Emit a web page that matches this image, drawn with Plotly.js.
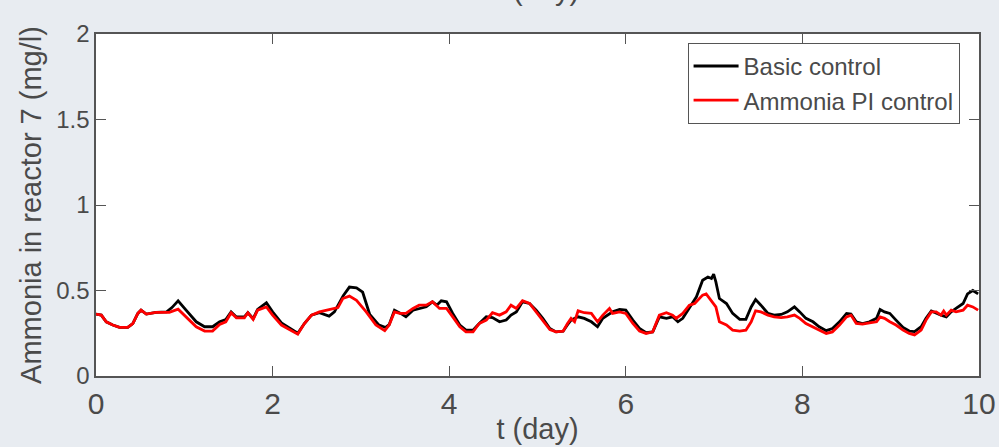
<!DOCTYPE html>
<html>
<head>
<meta charset="utf-8">
<script src="https://cdn.plot.ly/plotly-3.0.1.min.js"></script>
<style>html,body{margin:0;padding:0;background:#e8ecf1;}#chart{width:999px;height:447px;}</style>
</head>
<body>
<div id="chart"></div>
<script>
const seriesNames = ["Basic control", "Ammonia PI control"];

const tBasic = [0,0.06,0.116,0.19,0.266,0.36,0.417,0.474,0.51,0.57,0.68,0.80,0.86,0.93,1.02,1.135,1.23,1.32,1.40,1.47,1.53,1.59,1.68,1.72,1.78,1.83,1.93,2.00,2.10,2.19,2.285,2.36,2.44,2.53,2.64,2.70,2.80,2.87,2.95,3.02,3.10,3.20,3.28,3.32,3.38,3.45,3.51,3.59,3.66,3.74,3.81,3.86,3.91,3.97,4.04,4.12,4.19,4.27,4.34,4.42,4.49,4.57,4.645,4.70,4.76,4.83,4.91,4.985,5.06,5.14,5.21,5.29,5.34,5.38,5.46,5.53,5.61,5.68,5.74,5.815,5.85,5.93,6.00,6.08,6.155,6.23,6.305,6.38,6.46,6.53,6.59,6.645,6.72,6.80,6.87,6.93,6.97,6.995,7.02,7.06,7.14,7.21,7.29,7.36,7.42,7.47,7.53,7.61,7.68,7.76,7.83,7.91,7.97,8.04,8.12,8.19,8.27,8.34,8.42,8.50,8.55,8.61,8.68,8.76,8.84,8.88,8.93,8.99,9.06,9.14,9.21,9.27,9.345,9.40,9.46,9.515,9.57,9.63,9.685,9.74,9.82,9.87,9.93,9.99];
const basic = [0.362,0.356,0.317,0.298,0.284,0.284,0.307,0.366,0.385,0.362,0.372,0.375,0.40,0.44,0.385,0.317,0.288,0.288,0.317,0.33,0.375,0.345,0.345,0.37,0.335,0.39,0.428,0.375,0.31,0.28,0.25,0.307,0.356,0.37,0.35,0.375,0.47,0.52,0.515,0.49,0.36,0.30,0.284,0.30,0.385,0.366,0.346,0.385,0.395,0.405,0.434,0.414,0.44,0.434,0.366,0.298,0.268,0.268,0.307,0.346,0.342,0.317,0.327,0.356,0.375,0.434,0.424,0.385,0.337,0.278,0.258,0.262,0.30,0.327,0.346,0.337,0.317,0.288,0.337,0.366,0.375,0.389,0.385,0.327,0.278,0.253,0.258,0.346,0.337,0.346,0.317,0.337,0.395,0.463,0.56,0.579,0.57,0.595,0.55,0.453,0.424,0.366,0.331,0.331,0.404,0.447,0.414,0.366,0.356,0.36,0.375,0.404,0.375,0.337,0.317,0.288,0.265,0.278,0.317,0.366,0.362,0.317,0.307,0.317,0.337,0.389,0.375,0.366,0.327,0.284,0.263,0.26,0.288,0.337,0.38,0.366,0.356,0.346,0.375,0.395,0.424,0.48,0.50,0.48];

const tPI = [0,0.06,0.116,0.19,0.266,0.36,0.417,0.474,0.51,0.57,0.68,0.83,0.93,1.02,1.135,1.23,1.32,1.40,1.47,1.53,1.59,1.68,1.72,1.78,1.83,1.93,2.00,2.10,2.19,2.285,2.36,2.44,2.53,2.64,2.74,2.795,2.87,2.95,3.06,3.17,3.27,3.32,3.38,3.44,3.51,3.59,3.66,3.74,3.81,3.89,3.97,4.04,4.12,4.19,4.27,4.34,4.42,4.49,4.57,4.645,4.70,4.76,4.83,4.91,4.985,5.06,5.14,5.21,5.29,5.34,5.38,5.42,5.46,5.53,5.61,5.68,5.74,5.815,5.85,5.93,6.00,6.08,6.155,6.23,6.305,6.38,6.46,6.53,6.57,6.645,6.72,6.78,6.87,6.91,6.97,7.02,7.06,7.14,7.21,7.29,7.36,7.42,7.47,7.53,7.61,7.68,7.76,7.83,7.91,7.97,8.04,8.12,8.19,8.27,8.34,8.42,8.50,8.55,8.61,8.68,8.76,8.84,8.88,8.93,8.99,9.06,9.14,9.21,9.27,9.345,9.40,9.46,9.515,9.57,9.60,9.63,9.685,9.74,9.82,9.87,9.93,9.99];
const pi = [0.362,0.356,0.317,0.298,0.284,0.284,0.307,0.366,0.385,0.362,0.372,0.372,0.391,0.346,0.288,0.263,0.263,0.302,0.317,0.37,0.34,0.34,0.37,0.331,0.385,0.404,0.356,0.298,0.272,0.245,0.307,0.356,0.375,0.389,0.40,0.453,0.467,0.443,0.375,0.298,0.265,0.298,0.375,0.366,0.366,0.395,0.414,0.414,0.434,0.395,0.395,0.346,0.288,0.258,0.258,0.307,0.327,0.37,0.356,0.375,0.414,0.395,0.44,0.424,0.375,0.327,0.272,0.258,0.262,0.307,0.337,0.317,0.381,0.37,0.366,0.317,0.356,0.395,0.366,0.375,0.366,0.307,0.263,0.249,0.258,0.356,0.37,0.356,0.337,0.366,0.414,0.424,0.473,0.48,0.44,0.404,0.317,0.298,0.268,0.263,0.268,0.317,0.381,0.375,0.356,0.346,0.342,0.346,0.356,0.337,0.307,0.288,0.268,0.249,0.258,0.298,0.346,0.356,0.307,0.303,0.311,0.317,0.346,0.337,0.317,0.298,0.268,0.249,0.24,0.268,0.327,0.375,0.375,0.356,0.38,0.356,0.385,0.375,0.385,0.414,0.404,0.385];

const xTicks = [0,2,4,6,8,10];
const yTicks = [0,0.5,1,1.5,2];
const yTickLabels = ["0","0.5","1","1.5","2"];

const fam = "Liberation Sans, Arial, sans-serif";
const grey = "#4a4a4a";
const yTickFont = {family: fam, size: 24, color: grey};
const xTickFont = {family: fam, size: 30, color: grey};
const titleFont = {family: fam, size: 29, color: grey};

const traces = [
  {x: tBasic, y: basic, name: seriesNames[0], type: "scatter", mode: "lines", line: {color: "#000000", width: 2.8}},
  {x: tPI, y: pi, name: seriesNames[1], type: "scatter", mode: "lines", line: {color: "#ff0000", width: 2.8}}
];

const axisCommon = {
  showgrid: false, zeroline: false, showline: true, linecolor: "#555555", linewidth: 1.6,
  ticks: "inside", ticklen: 10, tickwidth: 1, tickcolor: "#555555", mirror: "ticks"
};

const layout = {
  width: 999, height: 447,
  margin: {l: 96, r: 20, t: 34, b: 71, pad: 0},
  paper_bgcolor: "#e8ecf1", plot_bgcolor: "#ffffff",
  font: yTickFont,
  showlegend: true,
  legend: {
    x: 0.978, xanchor: "right", y: 0.974, yanchor: "top",
    bgcolor: "#ffffff", bordercolor: "#555555", borderwidth: 1,
    font: {family: fam, size: 24, color: grey},
    itemwidth: 45, tracegroupgap: 0
  },
  xaxis: Object.assign({}, axisCommon, {
    range: [0, 10], tickvals: xTicks, ticktext: xTicks.map(String), tickfont: xTickFont,
    title: {text: "t (day)", font: titleFont, standoff: 0}
  }),
  yaxis: Object.assign({}, axisCommon, {
    range: [0, 2], tickvals: yTicks, ticktext: yTickLabels, tickfont: yTickFont,
    title: {text: "Ammonia in reactor 7 (mg/l)", font: titleFont, standoff: 6}
  }),
  annotations: [{
    text: "t (day)", xref: "paper", yref: "paper", x: 0.5, y: 1.076,
    xanchor: "center", yanchor: "bottom", showarrow: false, font: titleFont
  }]
};

Plotly.newPlot("chart", traces, layout, {displayModeBar: false, staticPlot: true});
</script>
</body>
</html>
